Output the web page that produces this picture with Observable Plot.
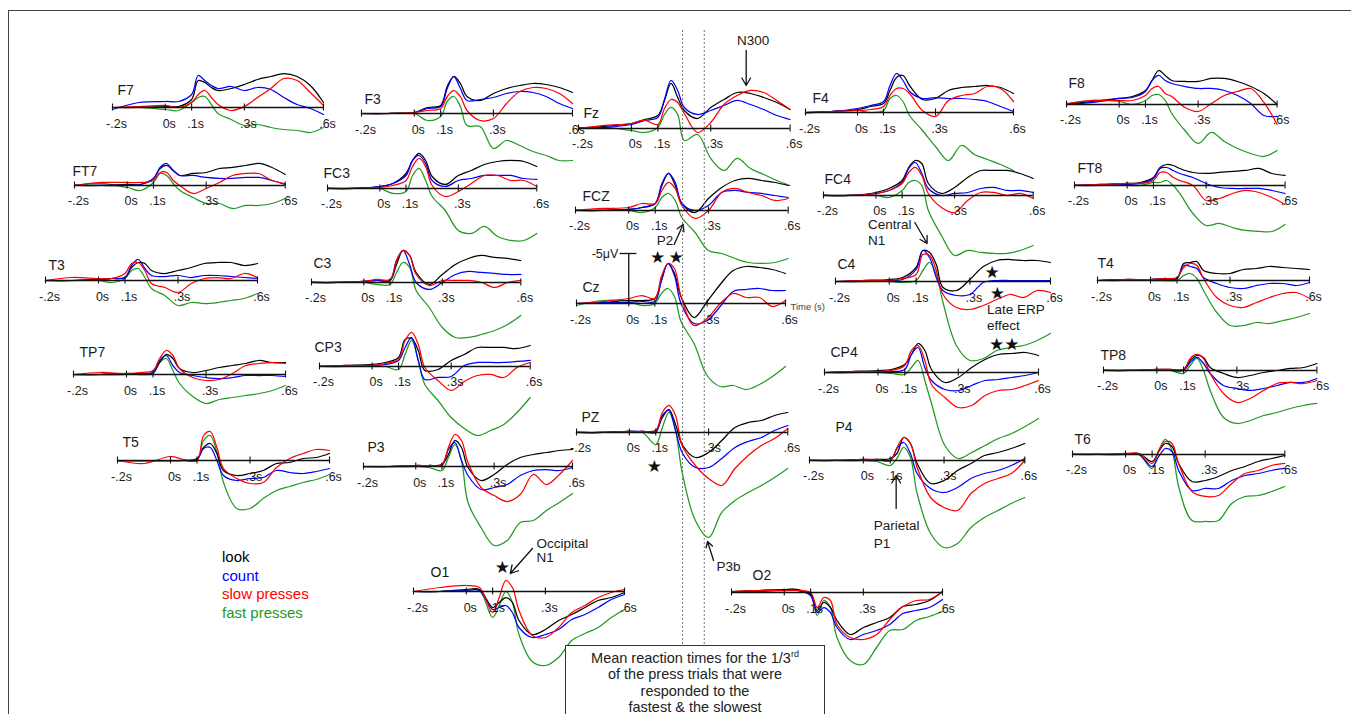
<!DOCTYPE html>
<html><head><meta charset="utf-8">
<script src="https://cdn.jsdelivr.net/npm/d3@7"></script>
<script src="https://cdn.jsdelivr.net/npm/@observablehq/plot@0.6"></script>
<style>
html,body{margin:0;padding:0;background:#fff;overflow:hidden;}
#stage{position:relative;width:1351px;height:714px;overflow:hidden;font-family:"Liberation Sans",Arial,Helvetica,sans-serif;color:#222;}
#frame{position:absolute;left:8px;top:10px;width:1400px;height:800px;border-left:1.5px solid #444;border-top:1.5px solid #444;}
#legend{position:absolute;left:222px;top:548px;font-size:15px;line-height:18.7px;white-space:nowrap;}
#rtbox{position:absolute;left:565px;top:645px;width:260px;height:110px;border:1.2px solid #333;background:#fff;text-align:center;font-size:14.5px;line-height:16.4px;padding-top:4px;color:#222;box-sizing:border-box;white-space:nowrap;}
#rtbox sup{font-size:9px;line-height:0;vertical-align:6px;}
</style></head><body>
<div id="stage"><div id="frame"></div></div>
<script>
// ---------- data (values in µV, negative plotted upward as in the original) ----------
const times = [-0.2,-0.1,0,0.05,0.1,0.125,0.15,0.175,0.2,0.25,0.3,0.35,0.4,0.45,0.5,0.55,0.6];
const channels = ["F7","F3","Fz","F4","F8","FT7","FC3","FCZ","FC4","FT8","T3","C3","Cz","C4","T4","TP7","CP3","CP4","TP8","T5","P3","PZ","P4","T6","O1","O2"];
const tickTimes = [-0.2,0,0.1,0.3,0.6];
const tickLabels = ["-.2s","0s",".1s",".3s",".6s"];
const conditions = ["look","count","slow presses","fast presses"];
const conditionColors = ["#000000","#0000ff","#ff0000","#229922"];
const reactionTimes = [0.206, 0.289]; // mean RT of fastest / slowest third of press trials

const look = [
 [0,0,-0.1,-0.1,-0.8,-2.7,-2.5,-2.0,-1.7,-1.9,-2.3,-2.8,-3.1,-3.4,-3.1,-2.2,-0.5],
 [0,0,-0.1,-0.6,-0.8,-2.7,-3.7,-3.0,-1.7,-1.3,-2.0,-2.5,-2.8,-3.0,-2.9,-2.6,-2.1],
 [0,-0.2,-0.5,-0.9,-1.3,-2.8,-4.5,-3.1,-1.8,-1.0,-2.1,-2.9,-3.6,-3.5,-3.1,-2.6,-1.9],
 [0,-0.1,-0.3,-0.6,-0.9,-2.2,-3.5,-3.7,-2.7,-1.3,-1.4,-2.2,-2.5,-2.6,-2.7,-2.5,-1.9],
 [0,-0.3,-0.6,-0.8,-1.4,-2.4,-3.4,-2.9,-2.4,-2.3,-2.3,-2.6,-2.6,-2.3,-1.8,-1.1,0],
 [0,0,-0.1,-0.1,-0.7,-1.7,-2.0,-1.5,-1.0,-1.2,-1.3,-1.7,-1.8,-2.0,-2.2,-1.8,-1.1],
 [0,0,-0.2,-0.5,-1.5,-2.8,-3.5,-2.8,-1.2,-0.4,-1.3,-1.8,-2.4,-2.7,-2.8,-2.7,-2.2],
 [0,0,-0.1,-0.3,-0.7,-2.5,-3.7,-2.5,-0.7,0.2,-1.2,-2.3,-3.0,-3.2,-3.0,-2.8,-2.5],
 [0,0,-0.3,-0.7,-1.5,-2.8,-3.5,-3.2,-1.2,-0.2,-0.8,-1.8,-2.5,-2.5,-2.5,-2.2,-1.7],
 [0,-0.1,-0.2,-0.3,-0.8,-1.8,-2.1,-2.0,-1.7,-1.3,-1.2,-1.3,-1.4,-1.5,-1.7,-1.2,-1.0],
 [0,0,-0.1,-0.2,-0.3,-1.3,-1.8,-1.7,-1.0,-0.7,-1.0,-1.3,-1.7,-1.8,-1.8,-1.5,-1.7],
 [0,0,-0.1,-0.2,-0.2,-1.8,-3.2,-2.7,-1.0,0.2,-0.8,-1.8,-2.4,-2.7,-2.5,-2.4,-2.2],
 [0,-0.1,-0.3,-0.3,-0.5,-2.3,-4.0,-3.0,-0.7,1.4,-0.2,-1.9,-3.3,-3.7,-3.6,-3.4,-3.0],
 [0,-0.1,-0.2,-0.4,-1.4,-3.1,-2.9,-1.7,0.6,0.9,-0.2,-1.5,-2.1,-2.2,-2.1,-2.1,-1.9],
 [0,-0.1,-0.1,-0.2,-0.2,-1.7,-1.8,-1.9,-1.0,-0.7,-0.7,-1.1,-1.2,-1.4,-1.3,-1.2,-1.1],
 [0,0,-0.1,-0.1,-0.2,-1.2,-2.0,-1.6,-0.6,-0.2,-0.4,-0.7,-0.9,-1.1,-1.4,-1.2,-1.2],
 [0,-0.1,-0.2,-0.4,-0.9,-2.7,-2.8,-1.6,0.4,0.3,-0.6,-1.2,-1.9,-1.9,-1.9,-1.8,-2.1],
 [0,-0.1,-0.2,-0.3,-0.8,-1.8,-2.9,-2.2,-0.3,1.0,0.5,-0.5,-1.3,-1.8,-1.9,-2.0,-1.7],
 [0,0,-0.1,-0.1,-0.1,-1.0,-1.5,-1.3,-0.3,0.3,0.7,0.5,0.2,0,-0.2,-0.3,-0.7],
 [0,0,0,0,-0.2,-1.3,-1.7,-0.7,1.0,1.5,1.3,1.0,0.3,0.2,-0.2,-0.3,-0.7],
 [0,0,-0.1,-0.1,-0.2,-1.2,-2.6,-1.9,0.1,1.4,0.8,-0.2,-0.9,-1.2,-1.4,-1.6,-1.7],
 [0,0,-0.1,-0.1,-0.2,-1.5,-2.3,-0.8,1.2,2.5,2.0,0.8,-0.5,-1.0,-1.2,-1.7,-2.0],
 [0,0,-0.1,-0.1,-0.2,-0.7,-2.3,-1.7,0.3,2.3,2.0,1.0,0.3,-0.5,-0.8,-1.2,-1.7],
 [0,0,0,-0.1,0.7,-0.3,-1.1,-0.8,0.9,2.7,2.6,2.2,1.6,1.2,0.7,0.4,0.1],
 [0,0,-0.2,-0.2,1.6,1.1,0.6,1.1,2.9,4.3,3.8,2.9,2.3,1.6,0.9,0.6,0.1],
 [-0.1,-0.2,-0.3,-0.3,0.2,1.8,1.0,1.5,2.8,4.2,3.5,3.0,2.5,1.4,1.2,0.8,-0.1]
];
const count = [
 [0.2,-0.5,-0.6,-0.6,-1.3,-3.2,-2.7,-2.2,-1.9,-2.1,-1.7,-2.0,-1.8,-1.0,-0.3,0.1,0.7],
 [0,0,-0.1,-0.5,-0.7,-2.5,-3.7,-2.5,-1.3,-1.4,-1.6,-2.0,-2.2,-2.1,-1.7,-1.0,-0.5],
 [0,-0.1,-0.4,-0.8,-1.1,-2.9,-4.8,-3.8,-2.1,-1.4,-1.8,-2.3,-2.8,-2.4,-1.9,-1.3,-0.9],
 [0,-0.1,-0.4,-0.7,-1.1,-2.7,-3.9,-3.2,-2.1,-1.4,-1.5,-1.4,-1.4,-1.3,-1.1,-0.6,-0.1],
 [0,-0.2,-0.6,-0.7,-1.3,-2.4,-2.9,-2.4,-2.1,-1.8,-1.6,-1.6,-1.4,-0.9,-0.1,1.1,1.2],
 [0,0,0,-0.1,-0.7,-1.8,-2.2,-1.5,-1.0,-1.0,-0.8,-0.7,-0.7,-0.8,-0.8,-0.5,-0.1],
 [0,0,-0.2,-0.5,-1.3,-2.8,-3.3,-2.5,-0.8,-0.2,-0.8,-1.0,-1.3,-1.3,-1.3,-1.0,-0.9],
 [0,0,-0.1,-0.3,-0.7,-2.7,-3.7,-2.8,-0.7,0,-0.5,-1.8,-2.0,-1.8,-1.7,-1.5,-1.3],
 [0,0,-0.2,-0.5,-1.3,-2.7,-3.3,-2.2,-0.7,0,-0.2,-0.3,-0.7,-0.8,-0.5,-0.5,-0.3],
 [0,0,-0.1,-0.2,-0.7,-1.7,-1.8,-1.5,-1.2,-0.8,-0.2,0.2,0.3,0.3,0.3,0.5,0.8],
 [0,0,-0.1,-0.2,-0.3,-1.5,-2.1,-1.2,-0.5,-0.4,-0.5,-0.3,-0.5,-0.5,-0.4,-0.3,-0.2],
 [0,0,-0.1,-0.2,-0.2,-2.2,-3.2,-1.8,0,0.7,0,-0.8,-1.1,-1.0,-0.9,-0.8,-0.8],
 [0,-0.1,-0.1,-0.2,-0.2,-2.3,-4.0,-2.8,0,2.0,1.7,0.3,-1.2,-1.4,-1.5,-1.3,-1.3],
 [0,0,-0.1,-0.2,-1.2,-3.1,-2.4,-0.4,0.9,1.4,1.3,0.1,-0.1,-0.1,-0.1,-0.1,-0.1],
 [0,0,-0.1,-0.1,-0.2,-1.5,-1.4,-1.2,-0.3,0.3,0.7,0.8,0.5,0.3,0.3,0.5,0.2],
 [0,0,0,-0.1,-0.2,-1.4,-1.9,-0.9,-0.2,0.1,0.3,0.4,0.3,0.1,0.1,0.1,0.2],
 [0,0,-0.1,-0.2,-0.6,-1.9,-2.9,-0.6,1.3,1.1,1.0,-0.1,-0.4,-0.4,-0.4,-0.5,-0.6],
 [0,0,-0.1,-0.1,-0.3,-1.8,-2.5,-0.5,0.8,1.7,1.8,1.3,0.8,0.7,0.5,0.3,0],
 [0,0,0,0,0,-0.8,-1.3,-0.7,0.3,1.5,1.8,2.0,1.8,1.5,1.2,1.2,0.8],
 [0,0,0,0,-0.1,-1.2,-1.3,0,1.5,2.0,1.8,1.7,1.0,1.2,1.3,1.1,0.8],
 [0,0,0,-0.1,-0.1,-1.7,-2.4,-0.6,0.9,2.3,2.1,1.8,0.9,0.4,0.3,0.4,0.1],
 [0,0,-0.1,-0.1,0,-1.7,-2.2,-0.2,2.0,3.5,3.5,2.6,1.5,0.9,0.5,-0.2,-0.7],
 [0,0,0,-0.1,0,-1.2,-1.8,-0.7,1.3,2.8,3.2,2.7,1.8,1.3,1.0,0.5,-0.2],
 [0,0,0,0,1.2,0.2,-0.6,-0.3,1.6,3.6,3.4,3.4,2.6,2.1,1.9,1.6,1.4],
 [0,0,-0.1,-0.1,1.8,1.6,1.4,2.1,3.6,4.6,4.3,3.8,2.8,2.3,1.6,0.8,0.3],
 [0,-0.1,-0.2,-0.2,0.3,2.0,1.5,2.0,3.5,4.7,4.2,3.8,3.2,2.1,1.8,1.5,0.7]
];
const slowPress = [
 [0,-0.1,-0.2,0,-0.5,-1.3,-1.7,-1.0,-0.3,0.3,-0.1,-1.0,-1.9,-2.9,-2.7,-1.5,-0.2],
 [0,0,-0.1,-0.3,-0.5,-1.7,-2.3,-1.7,-0.3,0.7,0.5,-1.0,-2.2,-2.6,-2.5,-2.0,-1.0],
 [0,-0.3,-0.5,-0.8,-0.4,-2.0,-2.9,-2.6,-1.5,0.4,-0.6,-2.4,-3.3,-3.8,-3.6,-2.8,-1.9],
 [0,-0.1,-0.2,-0.3,-0.6,-1.7,-2.4,-2.4,-1.9,-0.2,0.4,-1.2,-1.7,-1.9,-2.6,-2.4,-1.1],
 [-0.1,-0.4,-0.4,-0.4,-0.9,-1.6,-1.8,-1.1,-0.8,0.3,0.7,-0.1,-0.9,-1.3,-1.6,-0.2,2.0],
 [0,-0.3,-0.3,-0.3,-0.5,-1.3,-1.3,-0.5,0,0.8,0.3,-0.3,-1.0,-1.2,-1.2,-0.5,-0.2],
 [0,0,-0.1,-0.3,-0.8,-2.2,-3.0,-2.2,-0.3,0.8,0.3,-0.5,-1.3,-1.3,-0.8,-0.8,-0.2],
 [0,-0.2,-0.3,-0.7,-0.7,-2.0,-2.8,-2.2,-0.5,0.8,0,-1.8,-2.2,-1.8,-1.5,-1.0,-1.2],
 [0,0,-0.2,-0.5,-1.2,-2.3,-2.8,-2.0,-0.2,1.2,1.7,0.5,-0.3,-0.3,0,-0.2,0.3],
 [0,-0.1,-0.2,-0.2,-0.5,-1.3,-1.3,-0.8,-0.5,0,1.5,1.3,0.8,0.5,0.7,1.2,1.9],
 [0,-0.3,-0.2,-0.2,-0.7,-1.7,-1.8,-1.0,0.3,0.7,1.2,0.3,-0.2,-0.3,-0.2,-0.7,-0.3],
 [0,0,-0.1,-0.3,-0.3,-2.2,-3.2,-2.7,-0.8,0.3,-0.2,-0.2,-0.2,0,0.5,0,-0.2],
 [0,-0.2,-0.5,-0.8,-0.5,-2.7,-4.0,-3.5,-0.7,2.2,1.5,0,-1.0,-0.6,-0.6,0.3,-0.3],
 [0,-0.1,-0.1,-0.3,-0.7,-2.7,-2.6,-1.1,1.3,2.6,2.8,2.4,1.8,1.3,1.6,0.9,1.1],
 [0,-0.1,-0.1,-0.2,-0.3,-1.3,-1.7,-1.5,-0.2,1.7,2.5,2.7,2.2,1.7,1.3,1.2,1.8],
 [0,-0.2,-0.1,-0.2,-0.4,-1.6,-2.4,-1.9,-0.6,0.3,0.6,0.5,-0.1,-0.9,-1.1,-1.2,-1.1],
 [0,-0.1,-0.1,-0.3,-0.7,-2.6,-3.4,-2.2,0.1,1.4,2.4,1.5,0.9,0.8,1.1,0.1,-0.4],
 [0,-0.1,-0.1,-0.2,-0.7,-2.2,-2.7,-1.2,1.2,2.5,3.5,3.3,2.3,1.8,1.7,1.3,0.8],
 [0,0,-0.1,-0.1,-0.1,-1.2,-1.6,-1.2,0.3,2.3,3.2,2.8,2.0,1.3,1.2,1.3,1.0],
 [0,0.3,-0.4,-0.1,0,-2.5,-2.9,-1.3,0.8,1.8,2.3,2.2,0.7,-0.2,-0.7,-1.1,-1.0],
 [0,0,-0.1,-0.1,-0.2,-1.9,-3.2,-2.6,-0.4,2.1,2.9,3.5,2.8,0.8,1.8,0.8,-0.6],
 [0,0,-0.1,-0.1,-0.2,-2.0,-2.7,-1.7,1.3,3.3,4.6,5.3,3.6,2.3,1.3,0.6,-0.4],
 [0,0,-0.1,-0.1,0,-1.3,-2.3,-1.7,0.7,3.7,4.7,5.0,3.3,2.3,1.8,1.3,0],
 [0,0,-0.1,-0.1,0.9,-0.4,-1.3,-1.1,0.9,3.7,4.2,4.1,2.9,1.9,1.6,1.1,0.9],
 [0,-0.4,-0.6,-0.4,2.1,0.6,-1.1,-0.4,1.9,4.4,4.6,3.6,2.1,1.4,0.6,0.1,-0.2],
 [-0.1,-0.2,-0.2,-0.2,0,1.5,0.5,0.8,3.2,4.5,4.7,4.2,2.7,1.4,0.8,0.7,-0.1]
];
const fastPress = [
 [0,0,0.2,0.3,-0.5,-1.0,-1.1,-0.3,0.6,1.2,1.8,1.7,2.0,2.2,2.3,2.5,2.0],
 [0,0,0,0.7,0.3,-1.2,-1.7,-0.7,1.2,1.3,3.5,2.7,3.2,3.8,4.2,4.7,4.7],
 [0,-0.1,0.2,0.4,-0.1,-1.4,-2.1,-1.4,1.2,0.6,3.0,4.2,3.0,4.0,4.6,5.2,5.7],
 [0.1,-0.1,-0.2,0,-0.2,-1.4,-1.7,-1.1,0.3,1.8,3.4,4.8,3.3,4.2,4.7,5.2,5.8],
 [0,-0.4,-0.3,0,-0.4,-0.9,-1.0,-0.4,0.9,2.6,3.9,2.8,3.7,4.4,4.9,5.2,4.6],
 [0,-0.2,0.2,0.5,-0.3,-1.2,-1.0,-0.2,0.5,1.2,1.8,1.8,2.3,2.0,2.0,1.8,1.3],
 [0,0,0,0.5,0.3,-1.3,-2.0,-0.8,0.8,2.2,4.2,4.5,3.8,4.8,5.2,5.2,4.5],
 [0,0,0,0.2,-0.3,-1.3,-1.7,-1.0,0.7,2.2,4.0,4.3,4.8,5.2,5.3,5.2,4.8],
 [0,0,0,0.2,-0.5,-1.3,-1.5,-1.0,1.5,4.0,6.0,5.5,5.7,5.8,5.8,5.5,5.0],
 [0,0,0,0,-0.3,-0.3,-0.5,0,0.8,2.8,4.0,3.8,4.2,4.5,4.6,4.6,3.9],
 [0,0,0,0.2,-0.2,-1.0,-1.2,-0.3,0.8,1.5,2.5,2.2,2.3,2.2,2.0,1.8,1.3],
 [0,0,0,0.2,0.2,-1.0,-2.0,-1.5,0.8,2.5,4.5,5.5,5.5,5.2,4.8,4.2,3.3],
 [0.2,-0.3,-0.2,0.2,0,-1.0,-1.5,-0.7,1.8,4.0,7.2,8.3,8.2,8.6,8.1,7.3,6.3],
 [0,0,0,0.1,-0.1,-1.1,-1.9,-0.7,2.1,6.4,7.9,7.7,6.9,6.6,6.4,5.9,5.2],
 [0,-0.1,0,0,0,-0.5,-0.7,-0.2,1.0,3.2,4.5,4.5,4.2,4.3,4.0,3.7,3.3],
 [0,0,-0.1,0,-0.1,-1.2,-1.6,-0.4,0.9,2.2,2.9,2.5,2.3,2.1,1.9,1.6,1.1],
 [0,0,0,0,0.3,-1.2,-2.6,-0.6,1.8,3.4,5.1,6.2,6.9,6.4,5.8,4.6,3.1],
 [0,0,0,0.1,0.2,-0.5,-1.2,0.8,3.1,7.3,8.6,8.0,7.3,6.6,6.1,5.4,4.6],
 [0,0,0,0,0.3,-0.5,-1.2,0,2.0,4.7,5.3,5.0,4.5,4.2,3.8,3.5,3.3],
 [0,0,0,0,0,-2.0,-2.5,-0.8,2.2,4.8,4.8,3.8,3.0,2.6,2.2,1.9,1.4],
 [0,0,0,0.1,0.4,-0.9,-2.2,-0.6,3.6,6.1,7.9,7.4,5.6,5.4,4.4,3.6,2.7],
 [0,0,-0.1,0,1.2,-0.5,-2.0,-0.2,4.0,8.8,10.5,8.0,6.8,6.0,5.3,4.5,3.6],
 [0,0,0,0.1,0.5,-0.2,-1.3,-0.3,3.3,7.3,8.7,8.3,6.7,5.7,5.0,4.3,3.7],
 [0,0,0,0,1.4,-0.4,-1.5,-0.4,3.2,6.6,6.7,6.6,4.9,4.2,4.1,3.7,3.2],
 [0,0,-0.1,-0.1,2.6,1.4,0,1.1,4.3,7.0,7.4,6.6,4.9,4.2,3.6,2.6,1.8],
 [0,-0.2,-0.3,-0.3,0.3,2.3,0.8,1.5,4.5,6.8,7.2,5.5,3.8,3.7,2.8,2.4,1.9]
];

// annotations, in each panel's own (time, µV) coordinates
const annotationTexts = [
 {ch:"Fz", t:0.46, v:-8.8, text:"N300", anchor:"middle"},
 {ch:"FCZ", t:0.137, v:3.0, text:"P2", anchor:"middle"},
 {ch:"C4", t:-0.079, v:-5.7, text:"Central", anchor:"start"},
 {ch:"C4", t:-0.079, v:-4.1, text:"N1", anchor:"start"},
 {ch:"C4", t:0.364, v:2.8, text:"Late ERP", anchor:"start"},
 {ch:"C4", t:0.364, v:4.4, text:"effect", anchor:"start"},
 {ch:"P4", t:0.039, v:6.5, text:"Parietal", anchor:"start"},
 {ch:"P4", t:0.039, v:8.3, text:"P1", anchor:"start"},
 {ch:"PZ", t:0.33, v:13.4, text:"P3b", anchor:"start"},
 {ch:"O1", t:0.266, v:-4.8, text:"Occipital", anchor:"start"},
 {ch:"O1", t:0.266, v:-3.4, text:"N1", anchor:"start"}
];
const annotationArrows = [
 {ch:"Fz", t1:0.434, v1:-7.8, t2:0.434, v2:-4.3},
 {ch:"FCZ", t1:0.171, v1:3.4, t2:0.205, v2:1.4},
 {ch:"C4", t1:0.095, v1:-5.9, t2:0.141, v2:-3.8},
 {ch:"P4", t1:0.122, v1:4.8, t2:0.122, v2:1.5},
 {ch:"PZ", t1:0.319, v1:12.8, t2:0.296, v2:10.9},
 {ch:"O1", t1:0.251, v1:-4.3, t2:0.167, v2:-1.8}
];
const significanceStars = [
 {ch:"Cz", t:0.146, v:-4.6, text:"\u2605\u2009\u2605"},
 {ch:"C4", t:0.383, v:-0.9, text:"\u2605"}, {ch:"C4", t:0.402, v:1.2, text:"\u2605"},
 {ch:"CP4", t:0.472, v:-2.8, text:"\u2605\u2605"},
 {ch:"PZ", t:0.095, v:3.4, text:"\u2605"},
 {ch:"O1", t:0.137, v:-2.4, text:"\u2605"}
];

// ---------- layout: [left x of axis, right x of axis, baseline y, label dx, label dy] ----------
const panelLayout = [
 [112,323,106.7,5,-17],[361,572,113.3,3,-14],[577.7,789.3,127.7,5,-15],[805,1013,112,7,-14],[1065.7,1276.3,104.3,2,-21],
 [74,284.7,185,-2,-14],[326.7,536,188.3,-4,-15],[575,787.7,210,7,-14],[823.3,1033,195,1,-16],[1073.7,1284.3,185,3,-17],
 [45,257,280,3,-15],[311,520.3,281.7,2,-19],[576,785,303.3,6,-16],[835,1050,280.7,2,-17],[1096.7,1308.7,280,0,-17],
 [73.3,285.3,374,6,-22],[319.3,530,365.7,-5,-19],[824.3,1038.3,371.7,6,-20],[1103.3,1316.7,370,-3,-15],
 [117.3,329.3,460,5,-18],[362.7,571.7,465.7,4,-19],[576,787.3,431.7,5,-15],[809,1024.3,460,26,-33],[1071.7,1284,454.3,2,-15],
 [413,624,590.7,17,-19],[731,942,591.7,21,-17]
];

const stage = document.getElementById("stage");
const FONT = "'Liberation Sans', Arial, Helvetica, sans-serif";
const ML = 40, MR = 40, MT = 40, MB = 40, H = 170;
const yDomain = [-6, 11];
const baseInSvg = MT + (0 - yDomain[0]) / (yDomain[1] - yDomain[0]) * H;
const seriesList = [look, count, slowPress, fastPress];
const drawOrder = [3, 0, 1, 2];

channels.forEach((ch, i) => {
  const [left, right, base, ldx, ldy] = panelLayout[i];
  const rows = [];
  for (const k of drawOrder) seriesList[k][i].forEach((v, j) => rows.push({t: times[j], v, cond: conditions[k]}));
  const marks = [
    Plot.line(rows, {x: "t", y: "v", z: "cond", stroke: "cond", strokeWidth: 1.25, curve: "catmull-rom"}),
    Plot.ruleY([0], {x1: () => -0.2, x2: () => 0.6, stroke: "#111", strokeWidth: 1.3}),
    Plot.ruleX(tickTimes, {x: d => d, y1: () => -0.35, y2: () => 0.35, stroke: "#111", strokeWidth: 1.1}),
    Plot.text(tickTimes, {x: d => d, y: () => 0, text: (d, j) => tickLabels[j], dx: 4, dy: 16, fontSize: 12.5, fill: "#1a1a1a"}),
    Plot.text([ch], {x: () => -0.2, y: () => 0, text: d => d, dx: ldx, dy: ldy, textAnchor: "start", fontSize: 14, fill: "#1a1a1a"})
  ];
  const txt = annotationTexts.filter(a => a.ch === ch);
  for (const anchor of ["start", "middle"]) {
    const sub = txt.filter(a => a.anchor === anchor);
    if (sub.length) marks.push(Plot.text(sub, {x: "t", y: "v", text: "text", textAnchor: anchor, fontSize: 13.5, fill: "#1a1a1a"}));
  }
  const arr = annotationArrows.filter(a => a.ch === ch);
  if (arr.length) marks.push(Plot.arrow(arr, {x1: "t1", y1: "v1", x2: "t2", y2: "v2", stroke: "#111", strokeWidth: 1.3, headLength: 10}));
  const st = significanceStars.filter(a => a.ch === ch);
  if (st.length) marks.push(Plot.text(st, {x: "t", y: "v", text: "text", fontSize: 17, fill: "#111", fontFamily: "DejaVu Sans"}));
  if (ch === "Cz") {
    marks.push(
      Plot.ruleX(reactionTimes, {x: d => d, y1: () => -27.3, y2: () => 34.2, stroke: "#777", strokeWidth: 1, strokeDasharray: "2,2"}),
      Plot.ruleX([0], {x: d => d, y1: () => 0, y2: () => -5, stroke: "#111", strokeWidth: 1.3}),
      Plot.ruleY([-5], {y: d => d, x1: () => -0.033, x2: () => 0.031, stroke: "#111", strokeWidth: 1.3}),
      Plot.text(["-5\u03bcV"], {x: () => -0.04, y: () => -5, text: d => d, textAnchor: "end", fontSize: 12.5, fill: "#1a1a1a"}),
      Plot.text(["Time (s)"], {x: () => 0.6, y: () => 0, text: d => d, textAnchor: "start", dx: 5, dy: 3, fontSize: 9.5, fill: "#444"})
    );
  }
  const svg = Plot.plot({
    width: right - left + ML + MR,
    height: MT + H + MB,
    marginLeft: ML, marginRight: MR, marginTop: MT, marginBottom: MB,
    x: {domain: [-0.2, 0.6], axis: null},
    y: {domain: yDomain, reverse: true, axis: null},
    color: {domain: conditions, range: conditionColors},
    style: {background: "transparent", overflow: "visible", fontFamily: FONT},
    marks
  });
  svg.style.position = "absolute";
  svg.style.left = (left - ML) + "px";
  svg.style.top = (base - baseInSvg) + "px";
  svg.style.maxWidth = "none";
  stage.appendChild(svg);
});

// legend
const legend = document.createElement("div");
legend.id = "legend";
conditions.forEach((c, k) => {
  const d = document.createElement("div");
  d.textContent = c;
  d.style.color = conditionColors[k];
  legend.appendChild(d);
});
stage.appendChild(legend);

// reaction-time note box
const box = document.createElement("div");
box.id = "rtbox";
box.innerHTML = "Mean reaction times for the 1/3<sup>rd</sup><br>of the press trials that were<br>responded to the<br>fastest &amp; the slowest";
stage.appendChild(box);
</script>
</body></html>
